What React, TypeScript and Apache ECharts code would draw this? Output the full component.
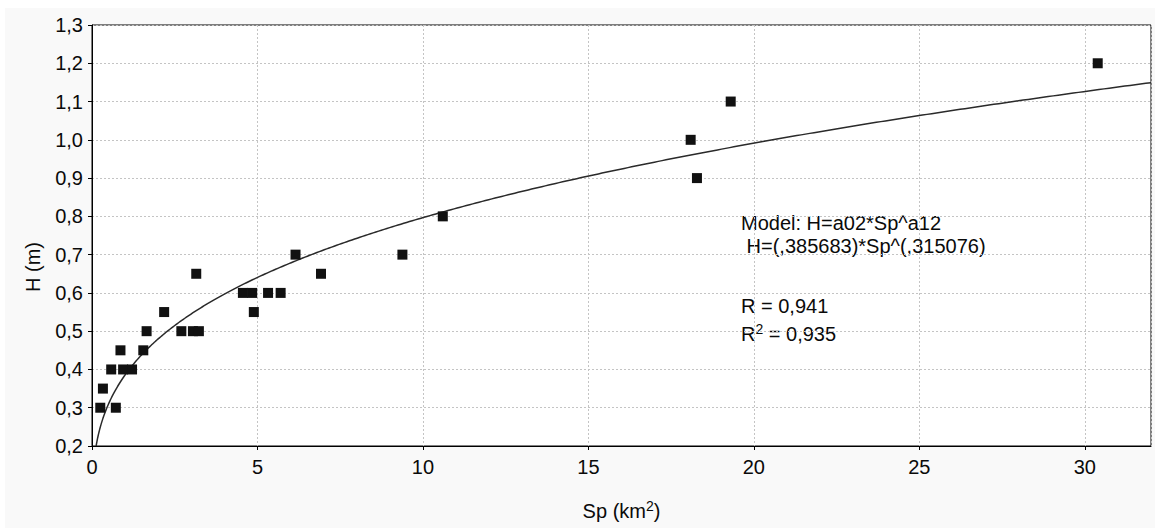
import React, { useEffect, useRef } from "react";
import * as echarts from "echarts";

// Observed data: catchment area Sp (km²) and depth H (m)
const spValues = [0.25, 0.33, 0.58, 0.72, 0.86, 0.94, 1.21, 1.55, 1.65, 2.18, 2.7, 3.05, 3.15, 3.23, 4.56, 4.84, 4.89, 5.32, 5.7, 6.15, 6.92, 9.38, 10.6, 18.09, 18.28, 19.3, 30.39];
const hValues = [0.3, 0.35, 0.4, 0.3, 0.45, 0.4, 0.4, 0.45, 0.5, 0.55, 0.5, 0.5, 0.65, 0.5, 0.6, 0.6, 0.55, 0.6, 0.6, 0.7, 0.65, 0.7, 0.8, 1.0, 0.9, 1.1, 1.2];

// Fitted model H = a0 * Sp^a1 (coefficients as printed on the chart)
const a0 = 0.385683;
const a1 = 0.315076;

const xTicks = { min: 0, max: 32, interval: 5 };
const yTicks = { min: 0.2, max: 1.3, interval: 0.1 };

const annotationLines = [
  "Model: H=a02*Sp^a12",
  " H=(,385683)*Sp^(,315076)",
  "R = 0,941",
  "R{s|2} = 0,935",
];

const FONT = "'Liberation Sans', Arial, sans-serif";
const INK = "#0a0a0a";

export default function App() {
  const ref = useRef<HTMLDivElement>(null);

  useEffect(() => {
    if (!ref.current) return;
    const chart = echarts.init(ref.current, undefined, { renderer: "svg" });

    const scatterData = spValues.map((x, i) => [x, hValues[i]]);

    // model curve from the printed coefficients
    const xStart = Math.pow(yTicks.min / a0, 1 / a1);
    const curve: number[][] = [];
    const n = 400;
    for (let i = 0; i <= n; i++) {
      const t = i / n;
      const x = xStart + (xTicks.max - xStart) * t * t;
      curve.push([x, a0 * Math.pow(x, a1)]);
    }

    const gridLeft = 87;
    const gridTop = 17;
    const gridWidth = 1059;
    const gridHeight = 421;

    const baseText = { fontFamily: FONT, fontSize: 20, fill: INK };
    const rich = {
      s: { fontFamily: FONT, fontSize: 14, fill: INK, verticalAlign: "top", lineHeight: 12 },
      n: { fontFamily: FONT, fontSize: 20, fill: INK, lineHeight: 24 },
    };

    const annY = [215, 238, 298, 326];
    const annX = [736, 736, 736, 736];

    chart.setOption({
      animation: false,
      backgroundColor: "#f9f9f9",
      grid: {
        left: gridLeft,
        top: gridTop,
        width: gridWidth,
        height: gridHeight,
        show: true,
        backgroundColor: "#ffffff",
        borderColor: "#000",
        borderWidth: 1,
      },
      xAxis: {
        type: "value",
        min: xTicks.min,
        max: xTicks.max,
        interval: xTicks.interval,
        axisLine: { show: true, onZero: false, lineStyle: { color: "#000", width: 1 } },
        axisTick: { show: true, length: 4, lineStyle: { color: "#000" } },
        axisLabel: {
          color: INK,
          fontFamily: FONT,
          fontSize: 20,
          margin: 11,
          showMaxLabel: false,
        },
        splitLine: { show: true, lineStyle: { color: "#c4c4c4", type: [2, 2], width: 1 } },
      },
      yAxis: {
        type: "value",
        min: yTicks.min,
        max: yTicks.max,
        interval: yTicks.interval,
        axisLine: { show: true, onZero: false, lineStyle: { color: "#000", width: 1 } },
        axisTick: { show: true, length: 4, lineStyle: { color: "#000" } },
        axisLabel: {
          color: INK,
          fontFamily: FONT,
          fontSize: 20,
          margin: 9,
          formatter: (v: number) => v.toFixed(1).replace(".", ","),
        },
        splitLine: { show: true, lineStyle: { color: "#c4c4c4", type: [2, 2], width: 1 } },
      },
      series: [
        {
          type: "line",
          data: curve,
          showSymbol: false,
          symbol: "none",
          lineStyle: { color: "#2a2a2a", width: 1.5 },
          z: 2,
          silent: true,
        },
        {
          type: "scatter",
          data: scatterData,
          symbol: "rect",
          symbolSize: 10,
          itemStyle: { color: "#111", opacity: 1 },
          z: 3,
        },
      ],
      graphic: [
        {
          type: "text",
          x: 28,
          y: 259,
          rotation: Math.PI / 2,
          style: { ...baseText, text: "H (m)", textAlign: "center", textVerticalAlign: "middle" },
        },
        {
          type: "text",
          x: gridLeft + gridWidth / 2,
          y: 503,
          style: {
            ...baseText,
            text: "{n|Sp (km}{s|2}{n|)}",
            rich,
            textAlign: "center",
            textVerticalAlign: "middle",
          },
        },
        ...annotationLines.map((t, i) => ({
          type: "text",
          x: annX[i],
          y: annY[i],
          style: {
            ...baseText,
            text: i === 3 ? "{n|R}{s|2}{n| = 0,935}" : t,
            rich: i === 3 ? rich : undefined,
            textAlign: "left",
            textVerticalAlign: "middle",
          },
        })),
      ],
    });

    return () => chart.dispose();
  }, []);

  return (
    <div
      ref={ref}
      style={{ position: "absolute", left: 5, top: 8, width: 1150, height: 520 }}
    />
  );
}
